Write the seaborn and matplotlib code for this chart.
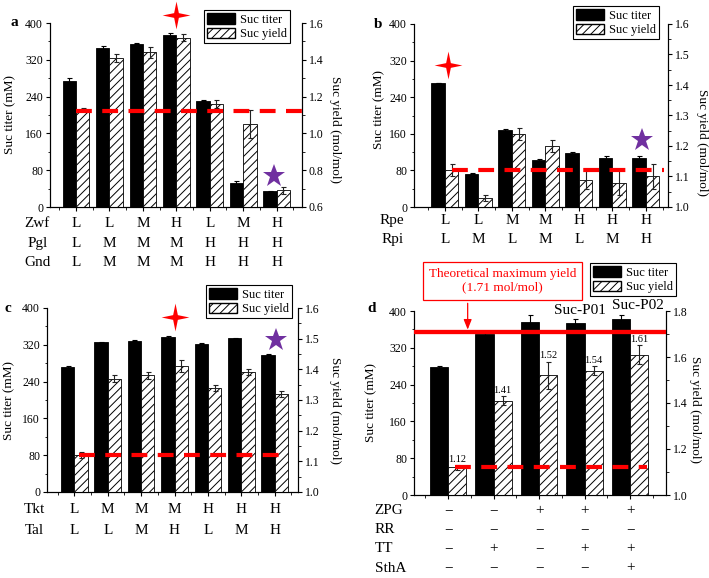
import numpy as np
import pandas as pd
import matplotlib
matplotlib.use('Agg')
import matplotlib.pyplot as plt
import matplotlib.transforms as mtransforms
from matplotlib.patches import Patch
from matplotlib.path import Path
from matplotlib.ticker import MultipleLocator, FormatStrFormatter
import seaborn as sns

# ── style ────────────────────────────────────────────────
sns.set_theme(style='ticks')
plt.rcParams.update({
    'font.family': ['Liberation Serif', 'DejaVu Serif'],
    'axes.linewidth': 0.8, 'axes.edgecolor': 'black', 'axes.labelcolor': 'black',
    'xtick.color': 'black', 'ytick.color': 'black', 'text.color': 'black',
    'xtick.major.width': 0.8, 'ytick.major.width': 0.8,
    'xtick.minor.width': 0.6, 'ytick.minor.width': 0.6,
    'xtick.major.size': 3, 'ytick.major.size': 3,
    'xtick.minor.size': 1.8, 'ytick.minor.size': 1.8,
    'xtick.major.pad': 2, 'ytick.major.pad': 2,
    'xtick.labelsize': 8.5, 'ytick.labelsize': 8.5, 'axes.labelsize': 9.5,
    'hatch.linewidth': 0.7,
})
RED = '#FF0000'
PURPLE = '#7030A0'
HATCH = '////'
W_PX, H_PX = 709, 578
BW = 0.4

# ── data ─────────────────────────────────────────────────
# (a) Zwf / Pgl / Gnd
a_titer = [275, 346, 355, 374, 231, 53, 34]
a_titer_err = [5, 3, 1, 5, 1, 3, 1]
a_yield = [1.13, 1.41, 1.44, 1.52, 1.16, 1.05, 0.69]
a_yield_err = [0.01, 0.02, 0.03, 0.02, 0.02, 0.075, 0.02]
a_row_names = ['Zwf', 'Pgl', 'Gnd']
a_rows = [['L', 'L', 'M', 'H', 'L', 'M', 'H'],
          ['L', 'M', 'M', 'M', 'H', 'H', 'H'],
          ['L', 'M', 'M', 'M', 'H', 'H', 'H']]

# (b) Rpe / Rpi
b_titer = [271, 73, 168, 103, 118, 107, 107]
b_titer_err = [1, 1, 2, 2, 2, 4, 5]
b_yield = [1.12, 1.03, 1.24, 1.20, 1.09, 1.08, 1.10]
b_yield_err = [0.02, 0.01, 0.02, 0.02, 0.03, 0.04, 0.04]
b_row_names = ['Rpe', 'Rpi']
b_rows = [['L', 'L', 'M', 'M', 'H', 'H', 'H'],
          ['L', 'M', 'L', 'M', 'L', 'M', 'H']]

# (c) Tkt / Tal
c_titer = [272, 326, 329, 337, 322, 334, 298]
c_titer_err = [2, 1, 1, 3, 1, 1, 1]
c_yield = [1.12, 1.37, 1.38, 1.41, 1.34, 1.39, 1.32]
c_yield_err = [0.01, 0.01, 0.01, 0.02, 0.01, 0.01, 0.01]
c_row_names = ['Tkt', 'Tal']
c_rows = [['L', 'M', 'M', 'M', 'H', 'H', 'H'],
          ['L', 'L', 'M', 'H', 'L', 'M', 'H']]

# (d) combined modules
d_titer = [278, 349, 376, 373, 382]
d_titer_err = [2, 3, 16, 10, 9]
d_yield = [1.12, 1.41, 1.52, 1.54, 1.61]
d_yield_err = [0.01, 0.02, 0.06, 0.02, 0.04]
d_row_names = ['ZPG', 'RR', 'TT', 'SthA']
d_rows = [['−', '−', '+', '+', '+'],
          ['−', '−', '−', '−', '−'],
          ['−', '+', '−', '+', '+'],
          ['−', '−', '−', '−', '+']]
d_strains = ['Suc-P01', 'Suc-P02']

base_yield = 1.12      # parent strain yield (dashed line)
theo_max = 1.71        # theoretical maximum yield

# red (best) and purple (chosen) stars: (group position, titer height)
a_red, a_purple = (3.0, 417), (5.93, 68)
b_red, b_purple = (0.08, 310), (5.89, 146)
c_red, c_purple = (3.0, 380), (6.05, 330)

SPARK = Path([(0, 1), (0.17, 0.17), (1, 0), (0.17, -0.17), (0, -1),
              (-0.17, -0.17), (-1, 0), (-0.17, 0.17), (0, 1)],
             [Path.MOVETO] + [Path.LINETO] * 7 + [Path.CLOSEPOLY])

fig = plt.figure(figsize=(7.09, 5.78), dpi=100)


def frame(l, t, r, b):
    return fig.add_axes([l / W_PX, 1 - b / H_PX, (r - l) / W_PX, (b - t) / H_PX])


def panel(ax, titer, terr, yld, yerr, y2lim, y2step, xlim, span,
          names, rows, row_y, name_x, name_ha, ylab, y2lab):
    g = np.arange(len(titer))
    dt = pd.DataFrame({'pos': g - BW / 2, 'val': titer})
    dy = pd.DataFrame({'pos': g + BW / 2, 'val': yld})
    ax2 = ax.twinx()
    sns.barplot(data=dt, x='pos', y='val', native_scale=True, width=BW,
                color='black', saturation=1, edgecolor='black', linewidth=0.6,
                errorbar=None, ax=ax)
    sns.barplot(data=dy, x='pos', y='val', native_scale=True, width=BW,
                color='white', saturation=1, edgecolor='black', linewidth=0.6,
                hatch=HATCH, errorbar=None, ax=ax2)
    ax.errorbar(dt['pos'], titer, yerr=terr, fmt='none', ecolor='black',
                elinewidth=0.8, capsize=1.8, capthick=0.8)
    ax2.errorbar(dy['pos'], yld, yerr=yerr, fmt='none', ecolor='#222222',
                 elinewidth=0.8, capsize=1.8, capthick=0.8)
    ax2.hlines(base_yield, span[0], span[1], colors=RED, linewidth=3,
               linestyles=(0, (3.8, 2.5)))

    ax.set_xlim(*xlim)
    ax.set_xticks(g)
    ax.set_xticks(np.arange(-0.5, len(g), 1), minor=True)
    ax.set_xticklabels([])
    ax.set_xlabel('')
    ax.set_ylim(0, 400)
    ax.yaxis.set_major_locator(MultipleLocator(80))
    ax.yaxis.set_minor_locator(MultipleLocator(40))
    ax2.set_ylim(*y2lim)
    ax2.yaxis.set_major_locator(MultipleLocator(y2step))
    ax2.yaxis.set_minor_locator(MultipleLocator(y2step / 2))
    ax2.yaxis.set_major_formatter(FormatStrFormatter('%.1f'))
    for a in (ax, ax2):
        a.spines['top'].set_visible(False)
        a.tick_params(which='both', direction='out')
    ax2.set_xlim(*xlim)

    ax.set_ylabel('Suc titer (mM)', va='center')
    ax.yaxis.set_label_coords(*ylab)
    ax2.set_ylabel('Suc yield (mol/mol)', rotation=270, va='center')
    ax2.yaxis.set_label_coords(*y2lab)

    tr = mtransforms.blended_transform_factory(ax.transData, ax.transAxes)
    for nm, vals, yy in zip(names, rows, row_y):
        ax.text(name_x, yy, nm, transform=ax.transAxes, ha=name_ha,
                va='center', fontsize=11, clip_on=False)
        for i, v in enumerate(vals):
            ax.text(i, yy, v, transform=tr, ha='center', va='center',
                    fontsize=11, clip_on=False)
    return ax2


def stars(ax, red, purple):
    ax.plot(*red, marker=SPARK, markersize=20, color=RED, mew=0, clip_on=False, zorder=5)
    ax.plot(*purple, marker='*', markersize=17, color=PURPLE, mew=0, clip_on=False, zorder=5)


def legend(x, y):
    h = [Patch(facecolor='black', edgecolor='black'),
         Patch(facecolor='white', edgecolor='black', hatch=HATCH)]
    leg = fig.legend(h, ['Suc titer', 'Suc yield'], loc='upper right',
                     bbox_to_anchor=(x / W_PX, 1 - y / H_PX), frameon=True,
                     fancybox=False, edgecolor='black', framealpha=1, fontsize=9,
                     handlelength=2.2, handleheight=0.9, borderpad=0.25,
                     labelspacing=0.15, handletextpad=0.4, borderaxespad=0)
    leg.get_frame().set_linewidth(0.8)


# ── panel a ──────────────────────────────────────────────
axa = frame(50, 23, 302, 207)
panel(axa, a_titer, a_titer_err, a_yield, a_yield_err, (0.6, 1.6), 0.2,
      (-0.78, 6.76), (0.0, 6.76), a_row_names, a_rows,
      [-0.089, -0.2, -0.304], -0.05, 'center', (-0.159, 0.5), (1.131, 0.42))
stars(axa, a_red, a_purple)
legend(290, 10)

# ── panel b ──────────────────────────────────────────────
axb = frame(414, 24, 668, 207)
panel(axb, b_titer, b_titer_err, b_yield, b_yield_err, (1.0, 1.6), 0.1,
      (-0.92, 6.66), (0.2, 6.55), b_row_names, b_rows,
      [-0.075, -0.18], -0.086, 'center', (-0.135, 0.535), (1.133, 0.355))
stars(axb, b_red, b_purple)
legend(659, 6)

# ── panel c ──────────────────────────────────────────────
axc = frame(47, 308, 298, 492)
panel(axc, c_titer, c_titer_err, c_yield, c_yield_err, (1.0, 1.6), 0.1,
      (-0.82, 6.70), (0.13, 6.18), c_row_names, c_rows,
      [-0.096, -0.209], -0.051, 'center', (-0.149, 0.5), (1.149, 0.443))
stars(axc, c_red, c_purple)
legend(292, 285)

# ── panel d ──────────────────────────────────────────────
axd = frame(414, 311, 666, 495)
axd2 = panel(axd, d_titer, d_titer_err, d_yield, d_yield_err, (1.0, 1.8), 0.2,
             (-0.75, 4.79), (0.15, 4.37), d_row_names, d_rows,
             [-0.083, -0.188, -0.293, -0.397], -0.156, 'left',
             (-0.169, 0.5), (1.117, 0.466))
axd2.axhline(theo_max, color=RED, linewidth=3.1, zorder=4)
for i, (v, e) in enumerate(zip(d_yield, d_yield_err)):
    axd2.annotate(f'{v:.2f}', (i + BW / 2, v + e), xytext=(0, 1),
                  textcoords='offset points', ha='center', va='bottom', fontsize=7.5)
axd.text(2.9, 400, d_strains[0], ha='center', va='center', fontsize=11, clip_on=False)
axd.text(4.18, 412, d_strains[1], ha='center', va='center', fontsize=11, clip_on=False)
fig.text(502.5 / W_PX, 1 - 280.8 / H_PX, 'Theoretical maximum yield\n(1.71 mol/mol)',
         color=RED, ha='center', va='center', fontsize=9.5, linespacing=1.2,
         bbox=dict(boxstyle='square,pad=0.45', fc='white', ec=RED, lw=0.9))
axd2.annotate('', xy=(0.43, theo_max), xytext=(0.43, 1 - 303.3 / H_PX),
              textcoords=('data', 'figure fraction'),
              arrowprops=dict(arrowstyle='-|>,head_length=0.5,head_width=0.2',
                              color=RED, lw=0.9, shrinkA=0, shrinkB=1.5))
legend(676, 263)

# panel letters
for lab, x, y in [('a', 14, 22), ('b', 378, 25), ('c', 8, 309), ('d', 372, 309)]:
    fig.text(x / W_PX, 1 - y / H_PX, lab, ha='center', va='center',
             fontsize=11, fontweight='bold')

fig.savefig('out.png', dpi=100)
